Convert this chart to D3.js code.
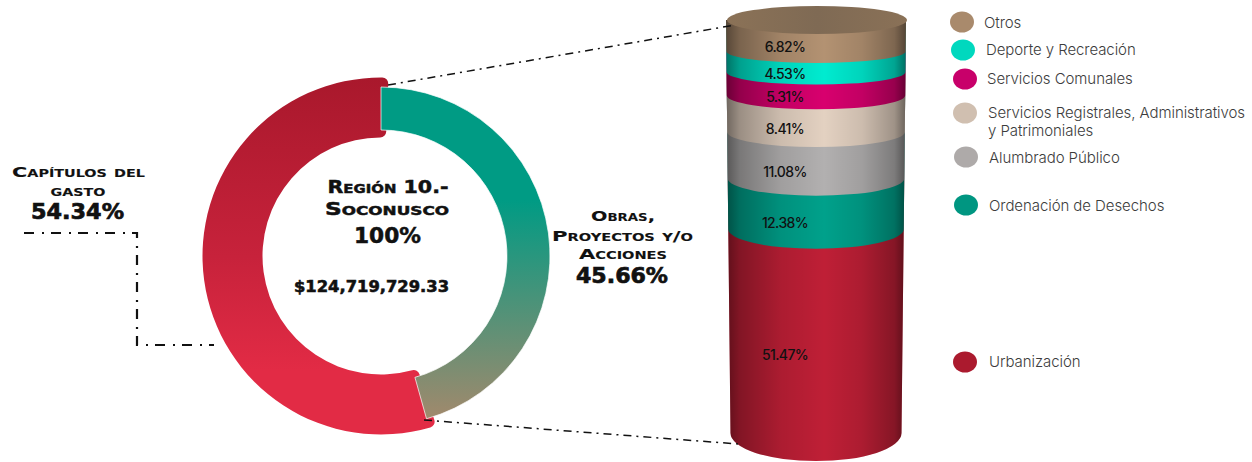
<!DOCTYPE html>
<html><head><meta charset="utf-8">
<script src="https://cdn.jsdelivr.net/npm/d3@7/dist/d3.min.js"></script>
<style>
html,body{margin:0;padding:0;background:#fff}
svg{display:block}
.head{font-family:"DejaVu Sans";font-weight:700;font-variant:small-caps;fill:#111;text-anchor:middle}
.pct{font-family:"DejaVu Sans";font-weight:700;fill:#111;text-anchor:middle}
.lab{font-family:Inter;font-weight:500;font-size:14px;letter-spacing:-0.6px;fill:#111;text-anchor:middle}
.leg{font-family:Inter;font-weight:300;font-size:15px;letter-spacing:-0.07px;fill:#3c3c3c}
</style></head><body>
<svg id="c" width="1252" height="462" viewBox="0 0 1252 462"></svg>
<script>
// ---- data ----
const donutNames = ["Obras, Proyectos y/o Acciones", "Capítulos del gasto"];
const donutValues = [45.66, 54.34];
const categories = ["Otros","Deporte y Recreación","Servicios Comunales","Servicios Registrales, Administrativos y Patrimoniales","Alumbrado Público","Ordenación de Desechos","Urbanización"];
const values = [6.82,4.53,5.31,8.41,11.08,12.38,51.47];
const bandColors = ["#b39272","#00ebd0","#d8006e","#e3d1c1","#b2b0b0","#00a18b","#bf1f36"];
const legendColors = ["#a98a6c","#00d8be","#c8006a","#d0bfb0","#aeaaa9","#009681","#ab1a2e"];
const totalLabel = "$124,719,729.33";
// ---- layout ----
const svg = d3.select("#c");
const defs = svg.append("defs");
function grad(id, attrs, stops){
  const g = defs.append("linearGradient").attr("id",id).attr("gradientUnits","userSpaceOnUse");
  Object.entries(attrs).forEach(([k,v])=>g.attr(k,v));
  stops.forEach(s=>g.append("stop").attr("offset",s[0]).attr("stop-color",s[1]).attr("stop-opacity",s[2]==null?1:s[2]));
}
const cx=381, cy=256;
grad("gTealLocal",{x1:0,x2:0,y1:87-cy,y2:420-cy},[[0,"#009b84"],[0.34,"#009b84"],[1,"#a2896c"]]);
grad("gRedLocal",{x1:0,x2:0,y1:78-cy,y2:435-cy},[[0,"#a9182c"],[0.5,"#c7223b"],[0.82,"#e22b45"],[1,"#e22b45"]]);
grad("gShade",{x1:727,x2:907,y1:0,y2:0},[[0,"#000",0.5],[0.07,"#000",0.32],[0.3,"#000",0.1],[0.54,"#000",0],[0.75,"#000",0.1],[0.93,"#000",0.3],[1,"#000",0.55]]);
grad("gCap",{x1:727,x2:907,y1:0,y2:0},[[0,"#8b7257"],[0.5,"#7f6a54"],[1,"#8a7157"]]);

// donut
const pie = d3.pie().sort(null).startAngle(0).endAngle(2*Math.PI);
const arcs = pie(donutValues);
const overlap = 2.4*Math.PI/180;
const g = svg.append("g").attr("transform",`translate(${cx},${cy})`);
g.append("path").attr("fill","url(#gRedLocal)")
 .attr("d",d3.arc().innerRadius(118.5).outerRadius(178.5).cornerRadius(6)
   .startAngle(arcs[1].startAngle-overlap).endAngle(arcs[1].endAngle+overlap)());
g.append("path").attr("fill","url(#gTealLocal)").attr("stroke","#fff").attr("stroke-width",0.7)
 .attr("d",d3.arc().innerRadius(126).outerRadius(169)
   .startAngle(arcs[0].startAngle).endAngle(arcs[0].endAngle)());

// cylinder (slightly compressed toward the base, as in the perspective view)
const colCx=816, colTop=20, colBase=433;
const y = d3.scalePow().exponent(0.93).domain([0,100]).range([17,colBase]);
const hw = d3.scaleLinear().domain([colTop,colBase]).range([90,85.5]);
const ry = v => 9.5+0.043*v;
const cum = d3.cumsum(values);
const lower = i => y(cum[i]);
const bandPath = yy => {
  const w=hw(yy), r=ry(yy);
  return `M${colCx-90},${colTop}L${colCx+90},${colTop}L${colCx+w},${yy}A${w},${r} 0 0 1 ${colCx-w},${yy}Z`;
};
const order = d3.range(values.length).reverse();
svg.append("g").selectAll("path").data(order).join("path")
  .attr("fill",i=>bandColors[i]).attr("d",i=>bandPath(lower(i)));
svg.append("path").attr("fill","url(#gShade)").attr("d",bandPath(y(100)));
svg.append("ellipse").attr("cx",colCx+1).attr("cy",colTop).attr("rx",90).attr("ry",14).attr("fill","url(#gCap)");
svg.append("g").selectAll("text").data(values).join("text").attr("class","lab")
  .attr("x",785)
  .attr("y",(d,i)=>{const a=i?lower(i-1):colTop,m=(a+lower(i))/2;return m+ry(m)+5.5;})
  .text(d=>d.toFixed(2)+"%");

// connector lines
const line = d3.line();
const conn = (pts,dash,w)=>svg.append("path").attr("d",line(pts)).attr("fill","none")
  .attr("stroke","#111").attr("stroke-width",w).attr("stroke-dasharray",dash);
conn([[388,85],[735,25]],"8 5 2 5",1.5);
conn([[424,420],[738,444]],"8 5 2 5",1.5);
conn([[24,233],[137,233],[137,345],[214,345]],"10 8 2 7",2.2);

// headings
const heads=[
 ["Región 10.-",388,193,18,121,"head",0.5],
 ["Soconusco",387,215,18,124,"head",0.5],
 [donutValues.reduce((a,b)=>a+b,0).toFixed(0)+"%",387.5,243,21,67,"pct",0.5],
 [totalLabel,371.5,292,16,155,"pct",0.6],
 ["Obras,",623,221,14.5,64,"head",0.1],
 ["Proyectos y/o",622.5,241,14.5,141,"head",0.1],
 ["Acciones",623,259,14.5,88,"head",0.1],
 [donutValues[0].toFixed(2)+"%",622,283,21,92,"pct",0.7],
 ["Capítulos del",78.5,177,14.5,133,"head",0.1],
 ["gasto",78,196,14.5,55,"head",0.1],
 [donutValues[1].toFixed(2)+"%",77.5,219,21,93,"pct",0.7]
];
svg.append("g").selectAll("text").data(heads).join("text")
  .attr("class",d=>d[5]).attr("x",d=>d[1]).attr("y",d=>d[2]).attr("font-size",d=>d[3])
  .attr("textLength",d=>d[4]).attr("lengthAdjust","spacingAndGlyphs")
  .attr("stroke","#111").attr("stroke-width",d=>d[6]).text(d=>d[0]);

// legend
const legendPos=[[962,22,984,28],[963,50,986,55],[965,79,987,84],[965,113,988,118],[966,157,989,163],[966,205,989,211],[965,362,989,367]];
const leg=svg.append("g");
leg.selectAll("ellipse").data(categories).join("ellipse")
  .attr("cx",(d,i)=>legendPos[i][0]).attr("cy",(d,i)=>legendPos[i][1]).attr("rx",12).attr("ry",10.5)
  .attr("fill",(d,i)=>legendColors[i]);
categories.forEach((c,i)=>{
  const p=legendPos[i];
  const parts = i===3 ? ["Servicios Registrales, Administrativos","y Patrimoniales"] : [c];
  parts.forEach((t,j)=>leg.append("text").attr("class","leg").attr("x",p[2]).attr("y",p[3]+j*18).text(t));
});
</script>
</body></html>
